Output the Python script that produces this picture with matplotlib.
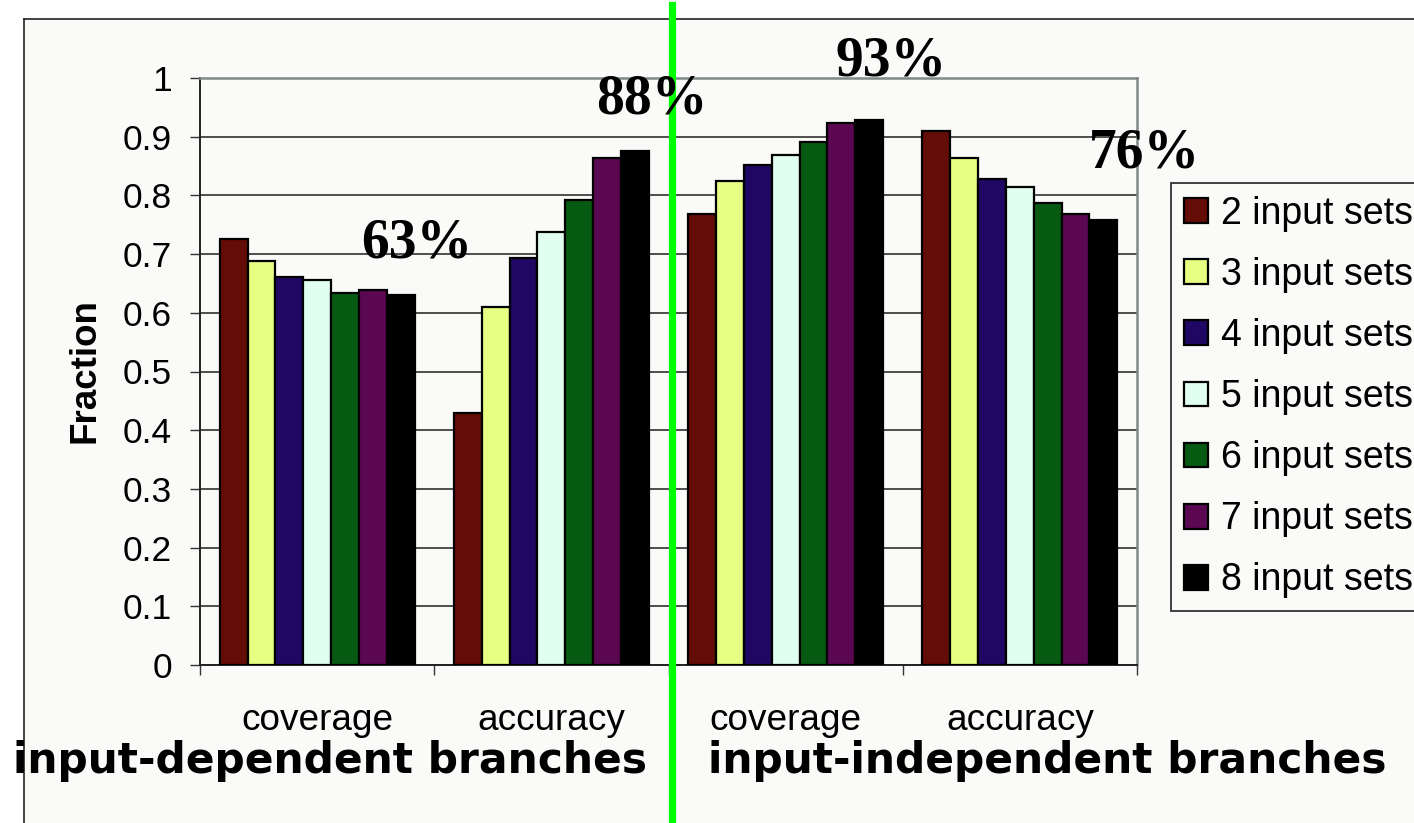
import matplotlib
matplotlib.use("Agg")
import matplotlib.pyplot as plt
import numpy as np
from matplotlib.lines import Line2D
from matplotlib.patches import Rectangle
from matplotlib.transforms import blended_transform_factory

# ---- data ----
categories = ["coverage", "accuracy", "coverage", "accuracy"]
series_names = ["2 input sets", "3 input sets", "4 input sets", "5 input sets",
                "6 input sets", "7 input sets", "8 input sets"]
input_sets_2 = [0.725, 0.430, 0.769, 0.910]
input_sets_3 = [0.688, 0.610, 0.824, 0.864]
input_sets_4 = [0.661, 0.693, 0.851, 0.828]
input_sets_5 = [0.656, 0.737, 0.869, 0.815]
input_sets_6 = [0.633, 0.792, 0.891, 0.787]
input_sets_7 = [0.639, 0.864, 0.923, 0.768]
input_sets_8 = [0.630, 0.875, 0.928, 0.758]
series_values = [input_sets_2, input_sets_3, input_sets_4, input_sets_5,
                 input_sets_6, input_sets_7, input_sets_8]
series_colors = ["#640C06", "#E6FF82", "#200763", "#E0FFF0",
                 "#075A12", "#5C0752", "#000000"]
yticks = [0, 0.1, 0.2, 0.3, 0.4, 0.5, 0.6, 0.7, 0.8, 0.9, 1]
ytick_labels = ["0", "0.1", "0.2", "0.3", "0.4", "0.5", "0.6", "0.7", "0.8", "0.9", "1"]
group_titles = ["input-dependent branches", "input-independent branches"]
# highlighted value shown above each group (the 8-input-set bar)
highlights = [input_sets_8[0], input_sets_8[1], input_sets_8[2], input_sets_8[3]]

W, H = 1414, 823
fig = plt.figure(figsize=(W / 100, H / 100), dpi=100)
fig.patch.set_facecolor("white")


def fx(x):
    return x / W


def fy(y):
    return 1 - y / H


# chart area background and frame
fig.patches.append(Rectangle((fx(24), 0), 1 - fx(24), fy(19), transform=fig.transFigure,
                             facecolor="#FAFAF8", edgecolor="none", zorder=0))
fig.lines.append(Line2D([fx(24), 1.0], [fy(19), fy(19)], transform=fig.transFigure,
                        color="#222222", lw=1.2, zorder=1))
fig.lines.append(Line2D([fx(24), fx(24)], [fy(19), 0.0], transform=fig.transFigure,
                        color="#222222", lw=1.2, zorder=1))

ax = fig.add_axes([fx(200), fy(665), fx(1137) - fx(200), fy(78) - fy(665)])
ax.set_facecolor("none")
ax.set_zorder(2)

n = len(series_values)
group_span = 0.832
bw = group_span / n
x = np.arange(len(categories))
handles = []
for i, (vals, col, name) in enumerate(zip(series_values, series_colors, series_names)):
    offs = -group_span / 2 + bw * (i + 0.5)
    b = ax.bar(x + offs, vals, width=bw, color=col, edgecolor="black",
               linewidth=1.6, label=name, zorder=3)
    handles.append(b)

ax.set_xlim(-0.5, len(categories) - 0.5)
ax.set_ylim(0, 1)
ax.set_yticks(yticks)
ax.set_yticklabels(ytick_labels, fontfamily="Liberation Sans", fontsize=25.5)
ax.set_xticks(np.arange(len(categories) + 1) - 0.5)
ax.set_xticklabels([])
ax.tick_params(axis="y", length=7.2, width=1.0, pad=13, color="#333333")
ax.tick_params(axis="x", length=7.2, width=1.0, color="#333333")
ax.yaxis.grid(True, color="#404040", lw=1.3, zorder=1)
ax.set_axisbelow(True)
for s in ["top", "right"]:
    ax.spines[s].set_color("#7E8A88")
    ax.spines[s].set_linewidth(1.8)
for s in ["left", "bottom"]:
    ax.spines[s].set_color("#222222")
    ax.spines[s].set_linewidth(1.4)

# y-axis title
fig.text(fx(85), fy(371), "Fraction", rotation=90, ha="center", va="center",
         fontfamily="Liberation Sans", fontweight="bold", fontsize=26.5)

# category labels under the axis
tr = blended_transform_factory(ax.transData, fig.transFigure)
for i, c in enumerate(categories):
    ax.text(i, fy(730), c, transform=tr, ha="center", va="baseline",
            fontfamily="Liberation Sans", fontsize=26.6, clip_on=False)

# group titles
fig.text(fx(13), fy(773), group_titles[0], ha="left", va="baseline",
         fontfamily="DejaVu Sans", fontweight="bold", fontsize=30.5, zorder=5)
fig.text(fx(708), fy(773), group_titles[1], ha="left", va="baseline",
         fontfamily="DejaVu Sans", fontweight="bold", fontsize=30.5, zorder=5)

# separator between the two groups
fig.lines.append(Line2D([fx(672), fx(672)], [fy(5), 0.0], transform=fig.transFigure,
                        color="#00FF00", lw=5.2, zorder=6))

# percentages above groups
pct_pos = [(417, 257), (652, 113), (891, 76), (1144, 167)]
for v, (px_, py_) in zip(highlights, pct_pos):
    fig.text(fx(px_), fy(py_), f"{round(v * 100):d}%", ha="center", va="baseline",
             fontfamily="Liberation Serif", fontweight="bold", fontsize=40, zorder=7)

leg = fig.legend(handles=handles, labels=series_names, loc="upper left",
                 bbox_to_anchor=(fx(1171), fy(183)), borderaxespad=0,
                 prop={"family": "Liberation Sans", "size": 27},
                 handlelength=0.64, handleheight=0.64, handletextpad=0.35,
                 labelspacing=0.67, borderpad=0.34, frameon=True, fancybox=False,
                 edgecolor="#333333", facecolor="#FAFAF8", framealpha=1)
leg.get_frame().set_linewidth(1.3)
leg.set_zorder(4)

fig.savefig("out.png", dpi=100)
